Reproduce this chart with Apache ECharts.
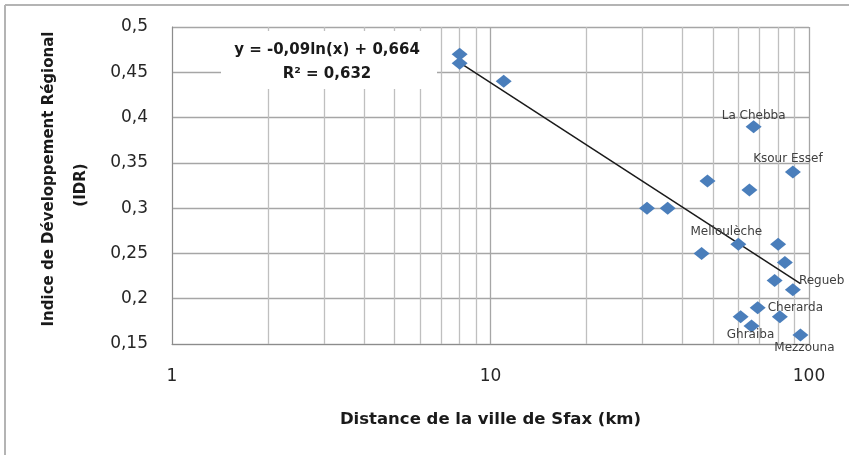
<!DOCTYPE html>
<html>
<head>
<meta charset="utf-8">
<script src="https://cdn.jsdelivr.net/npm/echarts@6/dist/echarts.min.js"></script>
<style>
html,body{margin:0;padding:0;background:#fff;}
#c{width:849px;height:455px;}
</style>
</head>
<body>
<div id="c"></div>
<script>
// ---- data ----
const distanceKm = [8, 8, 11, 67, 89, 48, 65, 31, 36, 60, 46, 80, 84, 78, 89, 69, 61, 66, 81, 94];
const idrValues  = [0.47, 0.46, 0.44, 0.39, 0.34, 0.33, 0.32, 0.30, 0.30, 0.26, 0.25, 0.26, 0.24, 0.22, 0.21, 0.19, 0.18, 0.17, 0.18, 0.16];
const pointNames = ['', '', '', 'La Chebba', 'Ksour Essef', '', '', '', '', 'Melloulèche', '', '', '', '', 'Regueb', 'Cherarda', '', 'Ghraiba', '', 'Mezzouna'];
const yTicks = [0.15, 0.2, 0.25, 0.3, 0.35, 0.4, 0.45, 0.5];
const xMajorTicks = [1, 10, 100];
const xMinorGrid = [2, 3, 4, 5, 6, 7, 8, 9, 20, 30, 40, 50, 60, 70, 80, 90];
const xTitle = 'Distance de la ville de Sfax (km)';
const yTitleLine1 = 'Indice de Développement Régional';
const yTitleLine2 = '(IDR)';
const eqText = 'y = -0,09ln(x) + 0,664';
const r2Text = 'R² = 0,632';

// label placement (style only)
const labelStyle = {
  'La Chebba':   {position: 'top', distance: 0, offset: [0, 2]},
  'Ksour Essef': {position: 'top', distance: 1, offset: [-5, 0]},
  'Melloulèche': {position: 'top', distance: 0, offset: [-12, 0]},
  'Regueb':      {position: 'right', distance: -2, offset: [0, -9]},
  'Cherarda':    {position: 'right', distance: 2},
  'Ghraiba':     {position: 'bottom', distance: -4, offset: [-1, 0]},
  'Mezzouna':    {position: 'bottom', distance: 0, offset: [4, 0]}
};

// least-squares logarithmic trend computed from the data
const lx = distanceKm.map(Math.log);
const mx = lx.reduce((a, b) => a + b, 0) / lx.length;
const my = idrValues.reduce((a, b) => a + b, 0) / idrValues.length;
let sxy = 0, sxx = 0;
lx.forEach((v, i) => { sxy += (v - mx) * (idrValues[i] - my); sxx += (v - mx) * (v - mx); });
const slope = sxy / sxx, intercept = my - slope * mx;
const xMin = Math.min(...distanceKm), xMax = Math.max(...distanceKm);
const trend = [[xMin, intercept + slope * Math.log(xMin)], [xMax, intercept + slope * Math.log(xMax)]];

const font = "'DejaVu Sans', sans-serif";
const points = distanceKm.map((x, i) => {
  const d = {value: [x, idrValues[i]], name: pointNames[i]};
  const ls = labelStyle[pointNames[i]];
  if (ls) d.label = Object.assign({show: true, formatter: '{b}'}, ls);
  return d;
});

const chart = echarts.init(document.getElementById('c'), null, {renderer: 'canvas'});
chart.setOption({
  animation: false,
  backgroundColor: '#fff',
  grid: {left: 172, right: 40, top: 27, bottom: 111, show: false, containLabel: false, outerBoundsMode: 'none'},
  xAxis: {
    type: 'log', logBase: 10, min: 1, max: 100,
    name: xTitle,
    nameLocation: 'middle', nameGap: 67,
    nameTextStyle: {fontFamily: font, fontWeight: 'bold', fontSize: 16.5, color: '#1a1a1a'},
    axisLine: {show: true, lineStyle: {color: '#8c8c8c', width: 1}},
    axisTick: {show: false},
    axisLabel: {fontFamily: font, fontSize: 17, color: '#262626', margin: 24,
      formatter: v => xMajorTicks.indexOf(Math.round(v)) >= 0 ? String(Math.round(v)) : ''},
    splitLine: {show: true, lineStyle: {color: '#a6a6a6', width: 1.3}}
  },
  yAxis: {
    type: 'value', min: 0.15, max: 0.5, interval: 0.05,
    axisLine: {show: true, lineStyle: {color: '#8c8c8c', width: 1}},
    axisTick: {show: false},
    axisLabel: {fontFamily: font, fontSize: 17, color: '#262626', margin: 24,
      formatter: v => {
        const t = yTicks.find(k => Math.abs(k - v) < 1e-6);
        return t === undefined ? '' : String(+t.toFixed(2)).replace('.', ',');
      }},
    splitLine: {show: true, lineStyle: {color: '#a6a6a6', width: 1.3}}
  },
  series: [
    {
      type: 'line', data: [], silent: true, z: 1,
      markLine: {
        silent: true, symbol: 'none', label: {show: false}, z: 1,
        lineStyle: {type: 'solid', color: '#bfbfbf', width: 1.3},
        data: xMinorGrid.map(v => ({xAxis: v}))
      }
    },
    {
      type: 'line', data: trend, showSymbol: false, symbol: 'none', z: 3,
      lineStyle: {color: '#1a1a1a', width: 1.5}
    },
    {
      type: 'scatter', data: points, symbol: 'diamond', symbolSize: [16, 13], z: 4,
      itemStyle: {color: '#4a7ebb', opacity: 1},
      label: {show: false, fontFamily: font, fontSize: 12, color: '#404040'}
    }
  ],
  graphic: [
    {type: 'rect', z: 50, shape: {x: 221, y: 31, width: 216, height: 58}, style: {fill: '#fff'}},
    {type: 'text', z: 51, x: 327, y: 50, style: {text: eqText, font: "bold 15px 'DejaVu Sans', sans-serif", fill: '#1a1a1a', textAlign: 'center', textVerticalAlign: 'middle'}},
    {type: 'text', z: 51, x: 327, y: 74, style: {text: r2Text, font: "bold 15px 'DejaVu Sans', sans-serif", fill: '#1a1a1a', textAlign: 'center', textVerticalAlign: 'middle'}},
    {type: 'text', z: 51, x: 49, y: 179, rotation: Math.PI / 2, style: {text: yTitleLine1, font: "bold 15px 'DejaVu Sans', sans-serif", fill: '#1a1a1a', textAlign: 'center', textVerticalAlign: 'middle'}},
    {type: 'text', z: 51, x: 81, y: 185, rotation: Math.PI / 2, style: {text: yTitleLine2, font: "bold 15px 'DejaVu Sans', sans-serif", fill: '#1a1a1a', textAlign: 'center', textVerticalAlign: 'middle'}},
    {type: 'line', z: 60, shape: {x1: 5, y1: 5, x2: 849, y2: 5}, style: {stroke: '#b4b4b4', lineWidth: 2}},
    {type: 'line', z: 60, shape: {x1: 5, y1: 5, x2: 5, y2: 455}, style: {stroke: '#b4b4b4', lineWidth: 2}}
  ]
});
</script>
</body>
</html>
